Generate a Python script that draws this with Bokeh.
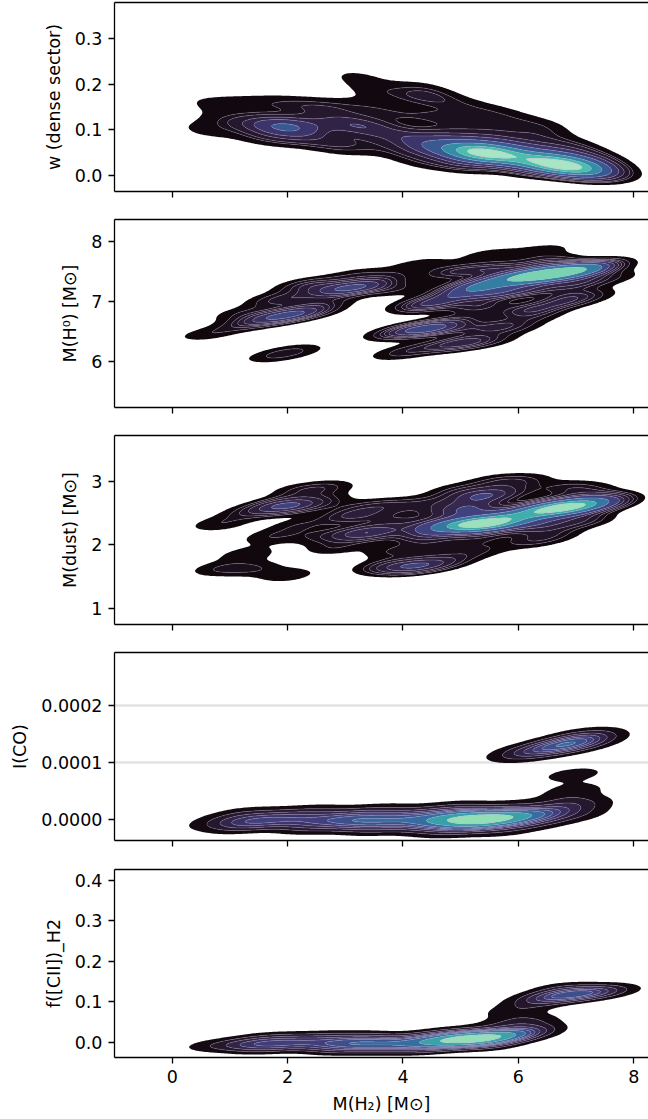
import numpy as np
from bokeh.plotting import figure
from bokeh.layouts import column
from bokeh.models import Range1d, LinearAxis, FixedTicker, PrintfTickFormatter, CustomJSTickFormatter
from bokeh.embed import file_html
from bokeh.resources import INLINE

# ---- binned posterior samples: M(H2) position, parameter value, sample count ----
dense_mh2 = [5.1, 5.45, 5.8, 6.3, 6.65, 7.0, 7.3,
             4.5, 4.2, 4.8, 5.5, 6.1, 6.7, 7.3, 5.0, 6.0, 3.9, 4.3, 7.6,
             5.0, 5.7, 6.4, 7.0, 4.5, 3.9, 4.3, 5.1, 5.7, 6.4,
             4.2, 4.6, 3.2, 3.5,
             3.0, 3.4, 3.7, 2.8, 3.4, 3.2,
             1.8, 2.15, 2.5, 1.4,
             0.9, 0.55, 0.7, 1.3, 1.9, 2.4, 1.5, 2.5, 2.9, 2.0]
dense_w = [0.052, 0.048, 0.044, 0.030, 0.023, 0.016, 0.010,
           0.060, 0.080, 0.085, 0.080, 0.065, 0.050, 0.035, 0.025, 0.010, 0.055, 0.030, 0.010,
           0.120, 0.110, 0.090, 0.065, 0.130, 0.130, 0.190, 0.150, 0.135, 0.110,
           0.170, 0.170, 0.215, 0.185,
           0.115, 0.105, 0.090, 0.150, 0.150, 0.070,
           0.107, 0.106, 0.115, 0.112,
           0.118, 0.098, 0.155, 0.157, 0.158, 0.150, 0.082, 0.078, 0.060, 0.080]
dense_n = [6, 8, 5, 5, 8, 6, 3,
           3, 2, 2, 2, 2, 2, 2, 2, 1, 1, 1, 1,
           1, 1, 1, 1, 1, 1, 1, 1, 1, 1,
           1, 1, 1, 1,
           2, 2, 1, 1, 1, 1,
           3, 3, 1, 1,
           1, 1, 1, 1, 1, 1, 1, 1, 1, 1]

h0_mh2 = [5.9, 6.3, 6.7, 7.1,
          5.3, 5.0, 5.6, 6.2, 7.4, 6.5, 5.6, 4.9, 7.0, 6.8,
          4.3, 5.5, 6.4, 7.6, 6.2, 5.3, 4.3, 3.9,
          4.6, 4.3, 5.3, 6.0, 6.6, 7.2, 5.7, 5.0,
          6.3, 5.9, 6.9, 5.5,
          4.2, 4.6, 5.0, 3.8, 5.3,
          4.3, 4.8, 3.9, 5.1,
          3.0, 3.4, 2.6, 3.7, 2.4, 3.2,
          1.6, 2.0, 2.4, 1.2, 0.6, 2.7, 1.9, 1.8, 2.3, 1.2,
          1.75, 2.15]
h0_mass = [7.38, 7.43, 7.48, 7.53,
           7.28, 7.15, 7.15, 7.20, 7.60, 7.65, 7.55, 7.50, 7.30, 7.10,
           7.62, 7.78, 7.85, 7.40, 6.85, 6.90, 6.95, 7.20,
           7.00, 6.90, 6.95, 6.85, 6.95, 7.10, 6.60, 6.35,
           6.75, 6.55, 7.00, 6.35,
           6.52, 6.57, 6.70, 6.45, 6.55,
           6.22, 6.25, 6.12, 6.30,
           7.22, 7.26, 7.15, 7.40, 7.30, 7.45,
           6.70, 6.77, 6.85, 6.60, 6.45, 7.00, 7.00, 7.05, 7.25, 6.80,
           6.08, 6.18]
h0_n = [5, 7, 7, 5,
        4, 3, 3, 2, 2, 2, 2, 2, 2, 1,
        1, 1, 1, 1, 1, 1, 1, 1,
        2, 1, 1, 1, 1, 1, 1, 1,
        1, 1, 1, 1,
        3, 3, 1, 1, 1,
        1, 1, 1, 1,
        3, 2, 1, 1, 1, 1,
        2, 3, 2, 1, 1, 1, 1, 1, 1, 1,
        1, 1]

dust_mh2 = [5.05, 5.4, 5.7, 6.35, 6.75, 7.1, 7.45,
            4.6, 6.0, 4.4, 5.3, 7.55, 6.3, 5.3, 6.9, 4.9, 7.2, 6.6, 7.2, 4.5,
            5.35, 5.8, 6.1, 4.9, 6.8, 5.6, 4.5,
            4.0, 4.4, 4.8, 3.6, 5.3, 6.2, 3.8,
            3.32, 2.6, 1.7, 3.8, 2.2, 3.2, 2.8, 3.4, 3.9, 3.0, 3.9,
            1.8, 2.1, 2.6, 1.3, 0.8, 2.7, 2.2,
            0.8, 1.4, 2.0, 1.3]
dust_mass = [2.31, 2.33, 2.36, 2.53, 2.58, 2.63, 2.67,
             2.30, 2.45, 2.15, 2.55, 2.70, 2.30, 2.10, 2.35, 2.55, 2.85, 2.15, 2.40, 1.95,
             2.76, 2.82, 3.00, 2.85, 2.90, 3.00, 2.65,
             1.65, 1.68, 1.75, 1.65, 1.90, 2.05, 1.90,
             2.18, 2.13, 2.12, 2.25, 2.30, 2.45, 1.95, 2.60, 2.62, 2.45, 2.42,
             2.60, 2.62, 2.68, 2.50, 2.32, 2.90, 2.85,
             1.62, 1.62, 1.52, 1.85]
dust_n = [5, 7, 4, 5, 7, 5, 2,
          3, 3, 2, 2, 1, 2, 1, 1, 2, 1, 1, 1, 1,
          3, 1, 1, 1, 1, 1, 1,
          2, 2, 1, 1, 1, 1, 1,
          3, 1, 1, 1, 1, 1, 1, 1, 1, 1, 1,
          2, 2, 1, 1, 1, 1, 1,
          1, 1, 1, 1]

co_mh2 = [4.9, 5.3, 5.7, 6.1,
          4.4, 3.8, 3.2, 2.6, 2.0, 1.4, 0.8,
          5.0, 5.3, 4.2, 4.4, 3.0, 3.2, 1.8, 6.5, 6.8, 7.1, 6.4, 7.0,
          1.2, 1.2, 2.4, 2.4, 3.6, 3.6, 4.8, 4.8, 5.8, 5.8,
          6.95, 6.95,
          6.3, 6.8, 7.2, 6.0, 7.2]
co_int = [0.00e-4, -0.01e-4, 0.01e-4, 0.04e-4,
          -0.02e-4, -0.02e-4, -0.02e-4, -0.02e-4, -0.03e-4, -0.04e-4, -0.06e-4,
          0.14e-4, -0.14e-4, 0.10e-4, -0.14e-4, 0.08e-4, -0.10e-4, 0.06e-4, 0.12e-4, 0.30e-4, 0.25e-4, -0.05e-4, 0.08e-4,
          0.08e-4, -0.12e-4, 0.12e-4, -0.14e-4, 0.14e-4, -0.16e-4, 0.18e-4, -0.20e-4, 0.20e-4, -0.18e-4,
          0.50e-4, 0.78e-4,
          1.20e-4, 1.30e-4, 1.40e-4, 1.12e-4, 1.48e-4]
co_n = [5, 7, 5, 3,
        3, 3, 3, 2, 2, 2, 1,
        1, 1, 1, 1, 1, 1, 1, 2, 1, 1, 1, 1,
        1, 1, 1, 1, 1, 1, 1, 1, 1, 1,
        1, 1,
        2, 4, 2, 1, 1]

cii_mh2 = [4.8, 5.2, 5.6,
           4.3, 3.7, 3.1, 2.5, 1.9, 1.3, 0.7, 6.0, 6.3,
           4.5, 4.5, 3.4, 3.4, 2.2, 5.5, 6.2, 5.8,
           1.6, 1.6, 2.8, 2.8, 4.0, 5.0,
           6.5, 6.9, 7.3, 7.6, 6.2, 6.8,
           5.9]
cii_frac = [0.004, 0.008, 0.013,
            0.000, -0.002, -0.002, -0.003, -0.003, -0.005, -0.008, 0.022, 0.035,
            0.018, -0.015, 0.012, -0.015, 0.010, -0.008, 0.055, 0.045,
            0.010, -0.014, 0.014, -0.016, -0.016, 0.025,
            0.110, 0.117, 0.124, 0.130, 0.095, 0.135,
            0.075]
cii_n = [5, 7, 5,
         3, 3, 3, 2, 2, 2, 1, 3, 1,
         1, 1, 1, 1, 1, 1, 1, 1,
         1, 1, 1, 1, 1, 1,
         2, 3, 2, 1, 1, 1,
         1]

X_RANGE = (-1.0, 8.255)

# mako colormap anchors
MAKO = [(0.0, "#0b0405"), (1 / 7, "#2e1e3b"), (2 / 7, "#413d7b"), (3 / 7, "#37659e"),
        (4 / 7, "#348fa7"), (5 / 7, "#40b7ad"), (6 / 7, "#8bdab2"), (1.0, "#def5e5")]


def _rgb(h):
    return np.array([int(h[i:i + 2], 16) for i in (1, 3, 5)], float)


def mako(t):
    t = float(np.clip(t, 0, 1))
    for (t0, c0), (t1, c1) in zip(MAKO[:-1], MAKO[1:]):
        if t <= t1:
            f = (t - t0) / (t1 - t0)
            c = _rgb(c0) * (1 - f) + _rgb(c1) * f
            return "#%02x%02x%02x" % tuple(int(round(v)) for v in c)
    return MAKO[-1][1]


def kde(xs, ys, ns, yr, kernel, nx=300, ny=240):
    """Weighted Gaussian KDE on a regular grid; kernel = (sigma_x, sigma_y, correlation)."""
    sx, sy, rho = kernel
    xs = np.asarray(xs, float)
    ys = np.asarray(ys, float)
    ns = np.asarray(ns, float)
    w = ns / ns.sum()
    K = np.array([[sx * sx, rho * sx * sy], [rho * sx * sy, sy * sy]])
    Ki = np.linalg.inv(K)
    gx = np.linspace(X_RANGE[0], X_RANGE[1], nx)
    gy = np.linspace(yr[0], yr[1], ny)
    X, Y = np.meshgrid(gx, gy)
    dx = X[..., None] - xs
    dy = Y[..., None] - ys
    q = Ki[0, 0] * dx * dx + 2 * Ki[0, 1] * dx * dy + Ki[1, 1] * dy * dy
    Z = (np.exp(-0.5 * q) * w).sum(-1) / (2 * np.pi * np.sqrt(np.linalg.det(K)))
    return gx, gy, Z


def iso_levels(Z, n=10, thresh=0.05):
    props = np.linspace(thresh, 1, n)
    vals = np.sort(Z.ravel())[::-1]
    cum = np.cumsum(vals) / vals.sum()
    idx = np.searchsorted(cum, 1 - props)
    return np.take(vals, idx, mode="clip")


FONT = "DejaVu Sans"
FS = "17.5px"


def panel(xs, ys, ns, yr, kernel, yticks, yfmt, ylabel, height, top, bottom, last=False, hlines=None):
    p = figure(width=648, height=height, x_range=Range1d(*X_RANGE), y_range=Range1d(*yr),
               output_backend="svg", toolbar_location=None,
               min_border_left=114, min_border_right=0, min_border_top=top, min_border_bottom=bottom)
    p.outline_line_color = None
    p.xgrid.visible = False
    p.ygrid.visible = False
    if hlines:
        p.ygrid.visible = True
        p.ygrid.ticker = FixedTicker(ticks=hlines)
        p.ygrid.grid_line_color = "#e3e3e3"
        p.ygrid.grid_line_width = 2.5

    gx, gy, Z = kde(xs, ys, ns, yr, kernel)
    lv = iso_levels(Z)
    lv[-1] = Z.max() * 1.0001
    mids = 0.5 * (lv[:-1] + lv[1:])
    t = (mids - lv[0]) / (lv[-1] - lv[0])
    fills = [mako(v) for v in t]
    p.contour(gx, gy, Z, levels=list(lv), fill_color=fills,
              line_color="#b9a9cc", line_alpha=[0.0] + [0.5] * (len(lv) - 1), line_width=0.6)

    for ax in (p.xaxis[0], p.yaxis[0]):
        ax.axis_line_color = "black"
        ax.axis_line_width = 1.3
        ax.major_tick_line_color = "black"
        ax.major_tick_line_width = 1.3
        ax.major_tick_out = 6
        ax.major_tick_in = 0
        ax.minor_tick_out = 0
        ax.minor_tick_in = 0
        ax.major_label_text_font = FONT
        ax.major_label_text_font_size = FS
        ax.major_label_text_color = "black"
        ax.major_label_standoff = 6
        ax.axis_label_text_font = FONT
        ax.axis_label_text_font_size = FS
        ax.axis_label_text_font_style = "normal"
        ax.axis_label_text_color = "black"
        ax.axis_label_standoff = 8
    p.xaxis.ticker = FixedTicker(ticks=[0, 2, 4, 6, 8])
    p.yaxis.ticker = FixedTicker(ticks=yticks)
    p.yaxis.formatter = PrintfTickFormatter(format=yfmt)
    p.yaxis.axis_label = ylabel
    if last:
        p.xaxis.axis_label = "M(H₂) [M⊙]"
    else:
        p.xaxis.formatter = CustomJSTickFormatter(code="return ''")

    top_axis = LinearAxis(ticker=FixedTicker(ticks=[]), axis_line_color="black", axis_line_width=1.3,
                          major_tick_out=0, major_tick_in=0, minor_tick_out=0, minor_tick_in=0,
                          major_label_standoff=0)
    p.add_layout(top_axis, "above")
    return p


p1 = panel(dense_mh2, dense_w, dense_n, (-0.036, 0.379), (0.40, 0.016, -0.35), [0.0, 0.1, 0.2, 0.3], "%.1f",
           "w (dense sector)", 218, 2, 27)
p2 = panel(h0_mh2, h0_mass, h0_n, (5.223, 8.373), (0.38, 0.09, 0.45), [6, 7, 8], "%d",
           "M(H⁰) [M⊙]", 216, 1, 27)
p3 = panel(dust_mh2, dust_mass, dust_n, (0.745, 3.716), (0.38, 0.09, 0.35), [1, 2, 3], "%d",
           "M(dust) [M⊙]", 217, 1, 27)
p4 = panel(co_mh2, co_int, co_n, (-0.0000377, 0.0002922), (0.40, 0.10e-4, 0.4), [0.0, 0.0001, 0.0002],
           "%.4f", "I(CO)", 217, 1, 28, hlines=[0.0001, 0.0002])
p5 = panel(cii_mh2, cii_frac, cii_n, (-0.0376, 0.427), (0.40, 0.012, 0.3), [0.0, 0.1, 0.2, 0.3, 0.4], "%.1f",
           "f([CII])_H2", 251, 1, 62, last=True)

layout = column(p1, p2, p3, p4, p5, spacing=0)
open("out.html", "w").write(file_html(layout, INLINE))
